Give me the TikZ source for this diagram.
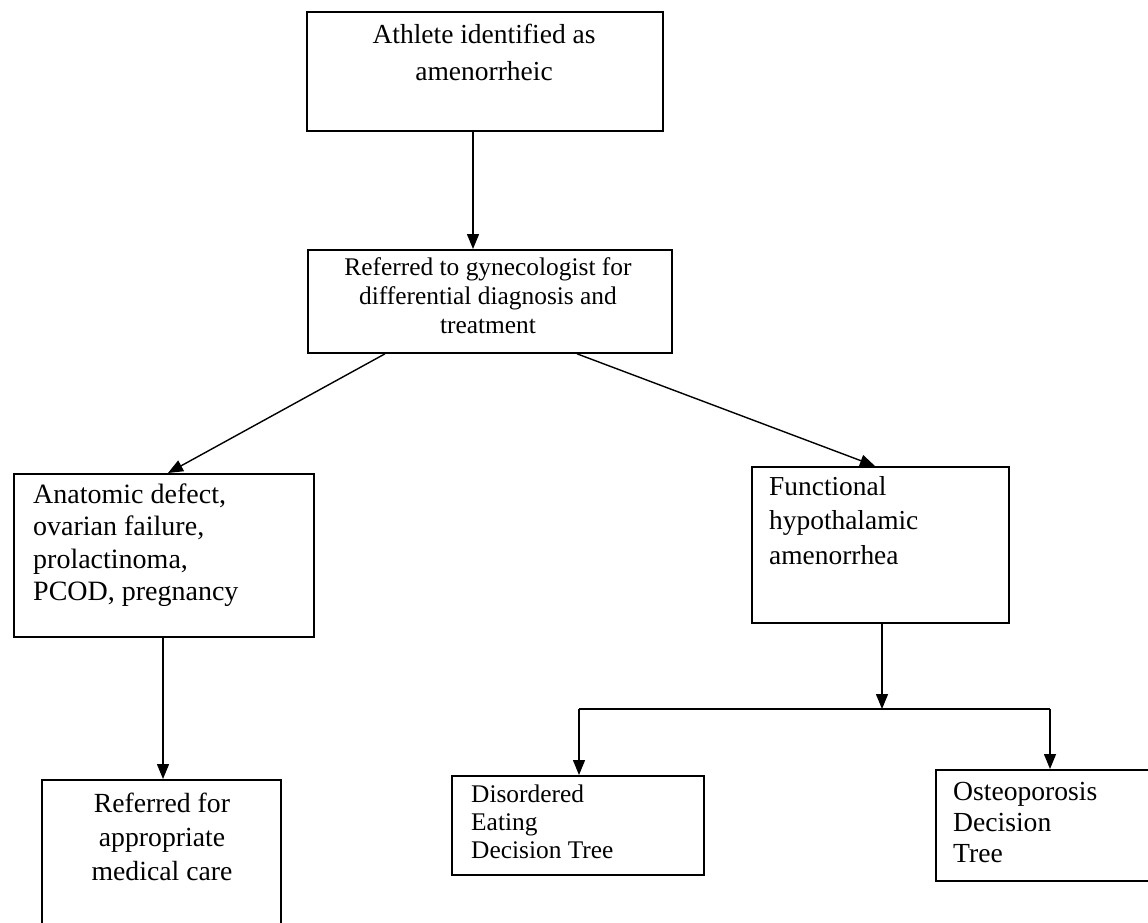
\documentclass[tikz,border=0pt]{standalone}
\usepackage{fontspec}
\setmainfont{Liberation Serif}
\usetikzlibrary{arrows.meta}
\tikzset{
  box/.style={draw=black, line width=1.8pt, inner sep=0pt, anchor=north west},
  lbl/.style={inner sep=0pt, text=black},
  arr/.style={draw=black, line width=1.4pt, -{Triangle[length=15pt,width=12pt]}},
  ln/.style={draw=black, line width=1.4pt}
}
\newcommand{\fs}[2]{\fontsize{#1}{#2}\selectfont}
\begin{document}
\begin{tikzpicture}[x=1pt,y=-1pt]
\useasboundingbox[fill=white] (0,0) rectangle (1148,922);
% boxes
\node[box, minimum width=356pt, minimum height=119pt] (b1) at (306,11) {};
\node[box, minimum width=364pt, minimum height=103pt] (b2) at (307,249) {};
\node[box, minimum width=300pt, minimum height=163pt] (b3) at (13,473) {};
\node[box, minimum width=257pt, minimum height=156pt] (b4) at (751,466) {};
\node[box, minimum width=239pt, minimum height=160pt] (b5) at (41,779) {};
\node[box, minimum width=252pt, minimum height=99pt] (b6) at (451,775) {};
\node[box, minimum width=230pt, minimum height=111pt] (b7) at (935,769) {};
% texts
\node[lbl, anchor=base] (t1) at (484,43) {\fs{27.5}{37}\begin{tabular}[t]{@{}c@{}}Athlete identified as\\amenorrheic\end{tabular}};
\node[lbl, anchor=base] (t2) at (488,275) {\fs{25.4}{29}\begin{tabular}[t]{@{}c@{}}Referred to gynecologist for\\differential diagnosis and\\treatment\end{tabular}};
\node[lbl, anchor=base west] (t3) at (33,503) {\fs{28}{32.5}\begin{tabular}[t]{@{}l@{}}Anatomic defect,\\ovarian failure,\\prolactinoma,\\PCOD, pregnancy\end{tabular}};
\node[lbl, anchor=base west] (t4) at (769,495) {\fs{27.4}{34.5}\begin{tabular}[t]{@{}l@{}}Functional\\hypothalamic\\amenorrhea\end{tabular}};
\node[lbl, anchor=base] (t5) at (162,812) {\fs{27.7}{34}\begin{tabular}[t]{@{}c@{}}Referred for\\appropriate\\medical care\end{tabular}};
\node[lbl, anchor=base west] (t6) at (471,802) {\fs{25.4}{28}\begin{tabular}[t]{@{}l@{}}Disordered\\Eating\\Decision Tree\end{tabular}};
\node[lbl, anchor=base west] (t7) at (953,800) {\fs{27.6}{31}\begin{tabular}[t]{@{}l@{}}Osteoporosis\\Decision\\Tree\end{tabular}};
% connectors
\coordinate (j) at (882,709);
\coordinate (jl) at (579,709);
\coordinate (jr) at (1050,709);
\draw[arr] ([xshift=167pt]b1.south west) -- ([xshift=166pt]b2.north west);
\draw[arr] ([xshift=78pt]b2.south west) -- ([xshift=155pt]b3.north west);
\draw[arr] ([xshift=270pt]b2.south west) -- ([xshift=124pt]b4.north west);
\draw[arr] ([xshift=150pt]b3.south west) -- ([xshift=122pt]b5.north west);
\draw[arr] ([xshift=131pt]b4.south west) -- (j);
\draw[ln] (jl) -- (jr);
\draw[arr] (jl) -- ([xshift=128pt]b6.north west);
\draw[arr] (jr) -- ([xshift=115pt]b7.north west);
\end{tikzpicture}
\end{document}
